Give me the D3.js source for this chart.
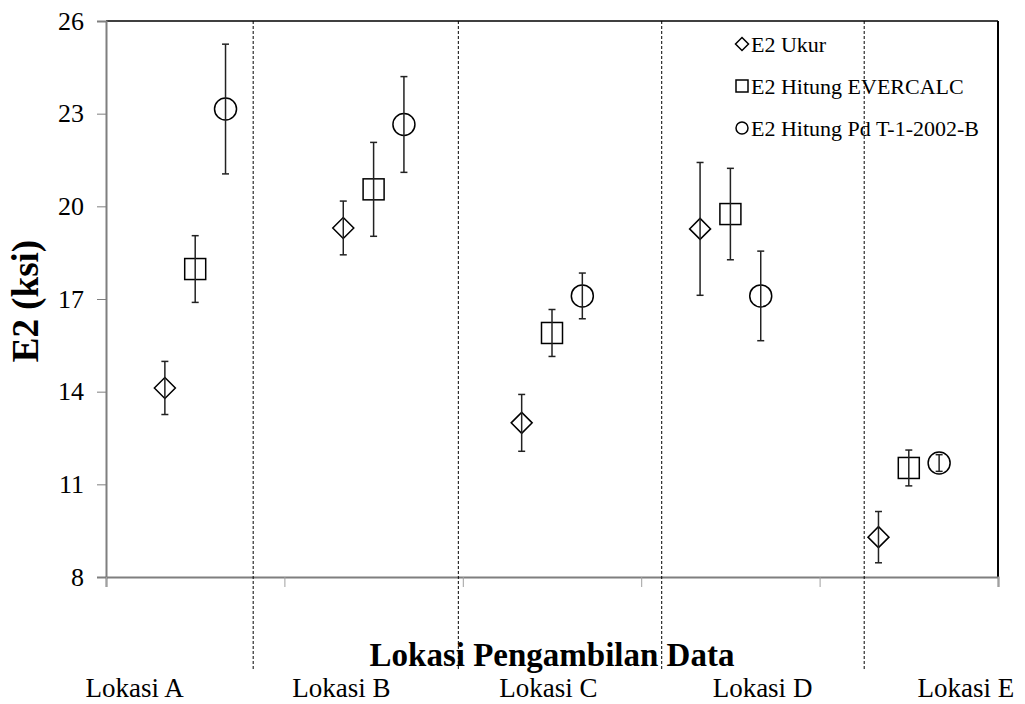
<!DOCTYPE html>
<html lang="id">
<head>
  <meta charset="UTF-8">
  <title>E2 per lokasi</title>
  <style type="text/css" media="all">
    body { margin: 0; background: #fff; }
    svg { display: block; }
    svg text { font-family: "Liberation Serif", "Times New Roman", serif; }
  </style>
</head>
<body>
  <div id="graph"></div>
  <script src="https://cdn.jsdelivr.net/npm/d3@7/dist/d3.min.js" charset="utf-8"></script>
  <script>
    // data
    var locations = ['Lokasi A', 'Lokasi B', 'Lokasi C', 'Lokasi D', 'Lokasi E'];
    var labelPos = [0.16, 1.32, 2.48, 3.68, 4.82];   // where each location label sits (x units)
    var separators = [0.825, 1.975, 3.115, 4.25];    // dotted divider lines (x units)
    var yTicks = [8, 11, 14, 17, 20, 23, 26];

    var ukur = [14.12, 19.30, 12.99, 19.27, 9.29];
    var ukurErr = [0.86, 0.87, 0.92, 2.15, 0.83];
    var evercalc = [17.97, 20.55, 15.90, 19.75, 11.53];
    var evercalcErr = [1.08, 1.52, 0.76, 1.48, 0.58];
    var pdt = [23.15, 22.65, 17.10, 17.10, 11.69];
    var pdtErr = [2.10, 1.55, 0.74, 1.45, 0.27];

    var seriesNames = ['E2 Ukur', 'E2 Hitung EVERCALC', 'E2 Hitung Pd T-1-2002-B'];
    var seriesShapes = ['diamond', 'square', 'circle'];
    var seriesOffset = [0.33, 0.5, 0.67];

    var width = 1025, height = 704;
    var margins = { top: 21, right: 27, bottom: 127, left: 106 };

    var x = d3.scaleLinear().domain([0, 5]).range([margins.left, width - margins.right]);
    var y = d3.scaleLinear().domain([8, 26]).range([height - margins.bottom, margins.top]);

    var svg = d3.select('#graph').append('svg')
        .attr('width', width)
        .attr('height', height);

    // frame: top and right edges black, axes grey
    svg.append('line')
        .attr('x1', x(0)).attr('x2', x(5))
        .attr('y1', y(26)).attr('y2', y(26))
        .attr('stroke', '#000').attr('stroke-width', 1.5);
    svg.append('line')
        .attr('x1', x(5)).attr('x2', x(5))
        .attr('y1', y(26)).attr('y2', y(8))
        .attr('stroke', '#000').attr('stroke-width', 2);

    var yAxis = svg.append('g')
        .attr('transform', 'translate(' + x(0) + ',0)')
        .call(d3.axisLeft(y).tickValues(yTicks).tickSize(9).tickPadding(13).tickFormat(d3.format('d')));
    yAxis.select('.domain').attr('stroke', '#7f7f7f').attr('stroke-width', 2);
    yAxis.selectAll('.tick line').attr('stroke', '#7f7f7f').attr('stroke-width', 1);
    yAxis.selectAll('.tick text')
        .attr('font-size', 26)
        .attr('fill', '#000');

    var xAxis = svg.append('g')
        .attr('transform', 'translate(0,' + y(8) + ')')
        .call(d3.axisBottom(x).ticks(5).tickSize(10).tickFormat(''));
    xAxis.select('.domain').attr('stroke', '#7f7f7f').attr('stroke-width', 2);
    xAxis.selectAll('.tick line').attr('stroke', '#a0a0a0').attr('stroke-width', 1);

    // axis titles
    svg.append('text')
        .attr('transform', 'translate(38,' + (y(17) + 2) + ') rotate(-90)')
        .attr('text-anchor', 'middle')
        .attr('font-weight', 'bold')
        .attr('font-size', 37)
        .text('E2 (ksi)');

    svg.append('text')
        .attr('x', 552).attr('y', 666)
        .attr('text-anchor', 'middle')
        .attr('font-weight', 'bold')
        .attr('font-size', 33)
        .text('Lokasi Pengambilan Data');

    svg.selectAll('.loc')
        .data(locations)
        .enter().append('text')
        .attr('class', 'loc')
        .attr('x', function(d, i) { return x(labelPos[i]); })
        .attr('y', 697)
        .attr('text-anchor', 'middle')
        .attr('font-size', 27)
        .text(function(d) { return d; });

    function marker(sel, shape, r) {
      if (shape === 'circle') {
        sel.append('circle').attr('r', r);
      } else if (shape === 'square') {
        sel.append('rect').attr('x', -r).attr('y', -r).attr('width', 2 * r).attr('height', 2 * r);
      } else {
        sel.append('path').attr('d', 'M0,' + (-r) + 'L' + r + ',0L0,' + r + 'L' + (-r) + ',0Z');
      }
      sel.selectAll('circle, rect, path')
          .attr('fill', 'none')
          .attr('stroke', '#000')
          .attr('stroke-width', 1.5);
    }

    // legend
    var legend = svg.append('g');
    var legendY = [44, 86, 128];
    seriesNames.forEach(function(name, k) {
      var g = legend.append('g').attr('transform', 'translate(742,' + legendY[k] + ')');
      marker(g.append('g'), seriesShapes[k], k === 0 ? 6.5 : 6);
      g.append('text')
          .attr('x', 9).attr('y', 7.5)
          .attr('font-size', 22)
          .text(name);
    });

    // dotted dividers between locations
    svg.selectAll('.sep')
        .data(separators)
        .enter().append('line')
        .attr('class', 'sep')
        .attr('x1', function(d) { return x(d); })
        .attr('x2', function(d) { return x(d); })
        .attr('y1', y(26)).attr('y2', 669)
        .attr('stroke', '#000')
        .attr('stroke-width', 1)
        .attr('stroke-dasharray', '3,2');

    // points with error bars
    var allValues = [ukur, evercalc, pdt];
    var allErrors = [ukurErr, evercalcErr, pdtErr];
    allValues.forEach(function(vals, k) {
      vals.forEach(function(v, i) {
        var cx = x(i + seriesOffset[k]);
        var g = svg.append('g').attr('transform', 'translate(' + cx + ',' + y(v) + ')');
        marker(g, seriesShapes[k], k === 2 ? 11 : 10.5);

        var top = y(v + allErrors[k][i]) - y(v),
            bottom = y(v - allErrors[k][i]) - y(v);
        g.append('line')
            .attr('x1', 0).attr('x2', 0).attr('y1', top).attr('y2', bottom)
            .attr('stroke', '#222').attr('stroke-width', 1.5);
        [top, bottom].forEach(function(yy) {
          g.append('line')
              .attr('x1', -3.5).attr('x2', 3.5).attr('y1', yy).attr('y2', yy)
              .attr('stroke', '#222').attr('stroke-width', 1.5);
        });
      });
    });
  </script>
</body>
</html>
